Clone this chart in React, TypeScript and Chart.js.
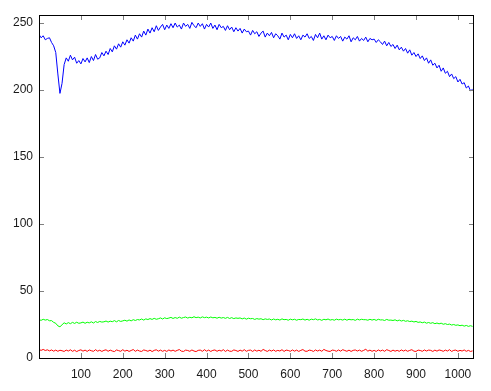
import React, { useEffect, useRef } from "react";
import { Chart, registerables } from "chart.js";

Chart.register(...registerables);

const X_START = 0;
const X_STEP = 5;
const X_MIN = 0;
const X_MAX = 1036;
const Y_MIN = 0;
const Y_MAX = 256;

const xTickValues = [100, 200, 300, 400, 500, 600, 700, 800, 900, 1000];
const yTickValues = [0, 50, 100, 150, 200, 250];

const blueValues = [
  241.5, 239, 240.5, 237.5, 238.5, 239, 235.5, 233, 228, 212, 197.5, 205, 219, 224, 221.5, 226,
  222.5, 224.5, 220, 222, 219.5, 223.5, 221, 224, 220.5, 225, 222, 226.5, 223, 224, 228, 225.5,
  229, 226.5, 231, 228.5, 233, 230.5, 234.5, 232, 236, 233.5, 237.5, 235, 239, 236.5, 241, 238,
  242, 239.5, 244, 241, 245.5, 242.5, 246.5, 243.5, 248, 244.5, 247, 249, 245, 248.5, 246, 249.5,
  246.5, 250, 247, 248.5, 245.5, 250, 247.5, 249, 246, 250.5, 248, 246.5, 250, 247.5, 249.5, 245.5,
  249, 247, 250, 246, 248.5, 245, 249, 246.5, 247.5, 244.5, 248, 245, 247, 243.5, 246.5, 244,
  246, 242.5, 245.5, 243.5, 244, 241, 244.5, 242, 243.5, 240, 242.5, 244, 239.5, 242.5, 240.5, 243,
  239, 242, 240.5, 238, 242.5, 239.5, 241, 237.5, 241.5, 239, 242, 238.5, 240.5, 237.5, 241, 239.5,
  242, 238.5, 240, 237, 241.5, 239, 242.5, 238, 240.5, 237.5, 241, 239, 240, 237, 240.5, 238.5,
  240, 236.5, 239.5, 238, 240.5, 236, 239, 237.5, 240, 236.5, 238.5, 237, 239.5, 236, 238.5, 237.5,
  238, 235.5, 237.5, 236, 234, 236.5, 233, 235.5, 232.5, 234, 231, 233.5, 230, 232, 229, 231,
  227.5, 230, 226, 228, 225, 227, 223.5, 225.5, 222, 224, 220, 222.5, 218.5, 220, 216.5, 218.5,
  214, 216.5, 212.5, 214, 210, 212, 208.5, 210, 206, 208, 204.5, 205.5, 201.5, 203, 199.5, 200.5,
];

const greenValues = [
  28.6, 28.1, 28.9, 28.3, 28.7, 27.8, 27.9, 26.6, 25.9, 24.0, 23.3, 24.8, 26.3, 25.4, 26.4, 25.6,
  26.6, 25.8, 26.7, 25.9, 26.2, 26.8, 25.9, 26.7, 26.2, 27.0, 26.1, 27.2, 26.5, 27.3, 26.8, 27.0,
  27.6, 26.8, 27.5, 27.1, 27.9, 27.0, 28.0, 27.3, 27.7, 28.2, 27.5, 28.4, 27.7, 28.6, 28.0, 28.7,
  28.4, 29.1, 28.3, 29.2, 28.7, 29.4, 28.8, 29.6, 28.9, 29.3, 29.9, 29.1, 30.0, 29.4, 29.8, 30.3,
  29.5, 30.2, 29.6, 30.5, 29.7, 30.2, 30.6, 29.8, 30.4, 30.0, 30.8, 30.1, 30.5, 29.9, 30.7, 30.1,
  30.5, 29.9, 30.6, 30.0, 30.3, 29.7, 30.4, 29.8, 30.2, 29.6, 30.3, 29.5, 30.1, 29.4, 29.9, 29.6,
  29.9, 29.2, 29.8, 29.0, 29.7, 29.3, 29.5, 28.8, 29.4, 29.0, 29.3, 28.6, 29.2, 28.8, 29.1, 28.4,
  29.1, 28.5, 28.9, 28.3, 29.2, 28.6, 28.8, 28.2, 29.0, 28.5, 28.9, 28.2, 28.8, 28.6, 29.1, 28.3,
  28.9, 28.2, 29.0, 28.6, 29.2, 28.4, 28.8, 28.1, 28.9, 28.5, 29.1, 28.3, 28.7, 28.2, 29.0, 28.5,
  28.8, 28.3, 29.0, 28.2, 28.9, 28.5, 28.7, 28.1, 29.0, 28.4, 28.9, 28.6, 28.6, 28.2, 28.9, 28.3,
  28.8, 28.1, 28.9, 28.4, 28.5, 28.0, 28.8, 28.2, 28.3, 28.0, 28.5, 27.7, 28.3, 27.6, 28.1, 27.4,
  27.8, 27.2, 27.5, 26.9, 27.3, 26.6, 26.9, 26.3, 26.8, 26.0, 26.5, 25.9, 26.4, 25.6, 26.1, 25.5,
  26.0, 25.2, 25.6, 25.0, 25.3, 24.6, 25.0, 24.4, 24.7, 24.1, 24.5, 23.8, 24.3, 23.6, 24.1, 23.6,
];

const redValues = [
  6.3, 5.7, 6.4, 5.6, 6.1, 5.3, 6.0, 5.1, 5.9, 5.0, 5.8, 5.4, 4.9, 5.9, 5.2, 6.1,
  5.0, 5.8, 4.8, 5.6, 6.1, 5.1, 5.9, 4.9, 6.0, 5.4, 5.0, 6.2, 5.1, 5.8, 4.9, 5.7,
  6.1, 5.0, 5.9, 5.2, 4.8, 6.0, 5.5, 5.0, 6.2, 5.1, 5.8, 4.9, 5.6, 6.3, 5.0, 5.9,
  5.2, 4.9, 6.0, 5.6, 5.0, 5.9, 4.8, 5.7, 6.1, 5.1, 5.9, 5.0, 5.7, 4.9, 6.0, 5.2,
  5.9, 5.0, 5.7, 6.3, 5.1, 4.9, 5.9, 5.6, 5.0, 6.0, 5.2, 4.8, 5.7, 5.9, 5.0, 6.2,
  5.1, 5.9, 4.9, 5.7, 6.0, 5.0, 5.8, 5.2, 6.2, 4.9, 5.9, 5.1, 5.0, 6.0, 5.6, 4.9,
  5.9, 5.1, 6.2, 5.0, 5.7, 5.9, 4.9, 6.0, 5.1, 5.8, 5.0, 6.4, 5.6, 4.9, 5.9, 5.2,
  6.0, 5.0, 5.7, 5.2, 6.2, 4.9, 5.9, 5.6, 5.0, 6.0, 5.1, 5.9, 4.9, 5.7, 6.3, 5.1,
  5.0, 5.9, 5.6, 4.9, 6.0, 5.2, 5.9, 5.0, 6.4, 5.6, 5.1, 4.9, 5.9, 5.7, 5.0, 6.0,
  5.1, 6.2, 5.6, 5.0, 5.9, 4.9, 5.7, 6.0, 5.2, 5.9, 5.0, 5.7, 6.5, 5.1, 5.9, 5.0,
  5.7, 4.9, 6.0, 5.2, 5.9, 5.0, 6.2, 5.6, 4.9, 5.9, 5.1, 5.7, 5.0, 6.0, 5.2, 5.9,
  5.0, 5.7, 6.2, 5.1, 4.9, 5.9, 5.6, 5.0, 6.0, 5.2, 5.9, 5.7, 4.9, 5.9, 5.1, 6.0,
  5.6, 5.0, 5.9, 5.2, 6.2, 4.9, 5.7, 5.9, 5.0, 5.7, 5.2, 6.0, 5.0, 5.7, 4.9, 5.3,
];

const toPoints = (vals: number[]) => vals.map((v, i) => ({ x: X_START + i * X_STEP, y: v }));

const framePlugin = {
  id: "frame",
  afterDraw(chart: any) {
    const { ctx, chartArea: a, scales } = chart;
    ctx.save();
    ctx.lineWidth = 1;
    ctx.strokeStyle = "#808080";
    ctx.beginPath();
    xTickValues.forEach((v) => {
      const px = Math.round(scales.x.getPixelForValue(v)) + 0.5;
      ctx.moveTo(px, a.bottom);
      ctx.lineTo(px, a.bottom - 5);
      ctx.moveTo(px, a.top);
      ctx.lineTo(px, a.top + 5);
    });
    yTickValues.forEach((v) => {
      if (v === 0) return;
      const py = Math.round(scales.y.getPixelForValue(v)) + 0.5;
      ctx.moveTo(a.left, py);
      ctx.lineTo(a.left + 5, py);
      ctx.moveTo(a.right, py);
      ctx.lineTo(a.right - 4, py);
    });
    ctx.stroke();
    ctx.strokeStyle = "#000000";
    ctx.strokeRect(Math.round(a.left) + 0.5, Math.round(a.top) + 0.5, Math.round(a.right - a.left), Math.round(a.bottom - a.top));
    ctx.restore();
  },
};

export default function App() {
  const ref = useRef<HTMLCanvasElement>(null);
  useEffect(() => {
    if (!ref.current) return;
    const font = { family: "'Liberation Sans', Arial, sans-serif", size: 12 };
    const chart = new Chart(ref.current, {
      type: "line",
      data: {
        datasets: [
          { data: toPoints(blueValues), borderColor: "#0000ff", borderWidth: 1, pointRadius: 0, tension: 0 },
          { data: toPoints(greenValues), borderColor: "#00ff00", borderWidth: 1, pointRadius: 0, tension: 0 },
          { data: toPoints(redValues), borderColor: "#ff0000", borderWidth: 1, pointRadius: 0, tension: 0 },
        ],
      },
      options: {
        animation: false,
        responsive: false,
        events: [],
        layout: { padding: { top: 15, right: 18, bottom: 0, left: 0 } },
        plugins: { legend: { display: false }, tooltip: { enabled: false } },
        scales: {
          x: {
            type: "linear",
            min: X_MIN,
            max: X_MAX,
            grid: { display: false, drawTicks: false },
            border: { display: false },
            afterBuildTicks: (s: any) => {
              s.ticks = xTickValues.map((v) => ({ value: v }));
            },
            afterFit: (s: any) => {
              s.height = 33;
            },
            ticks: { color: "#1a1a1a", font, padding: 9, maxRotation: 0, autoSkip: false, callback: (v: any) => String(v) },
          },
          y: {
            type: "linear",
            min: Y_MIN,
            max: Y_MAX,
            grid: { display: false, drawTicks: false },
            border: { display: false },
            afterBuildTicks: (s: any) => {
              s.ticks = yTickValues.map((v) => ({ value: v }));
            },
            afterFit: (s: any) => {
              s.width = 39;
            },
            ticks: { color: "#1a1a1a", font, padding: 6, autoSkip: false, callback: (v: any) => String(v) },
          },
        },
      },
      plugins: [framePlugin],
    });
    return () => chart.destroy();
  }, []);
  return (
    <div style={{ position: "fixed", left: 0, top: 0, width: 491, height: 391, background: "#fff" }}>
      <canvas ref={ref} width={491} height={391} style={{ display: "block" }} />
    </div>
  );
}
